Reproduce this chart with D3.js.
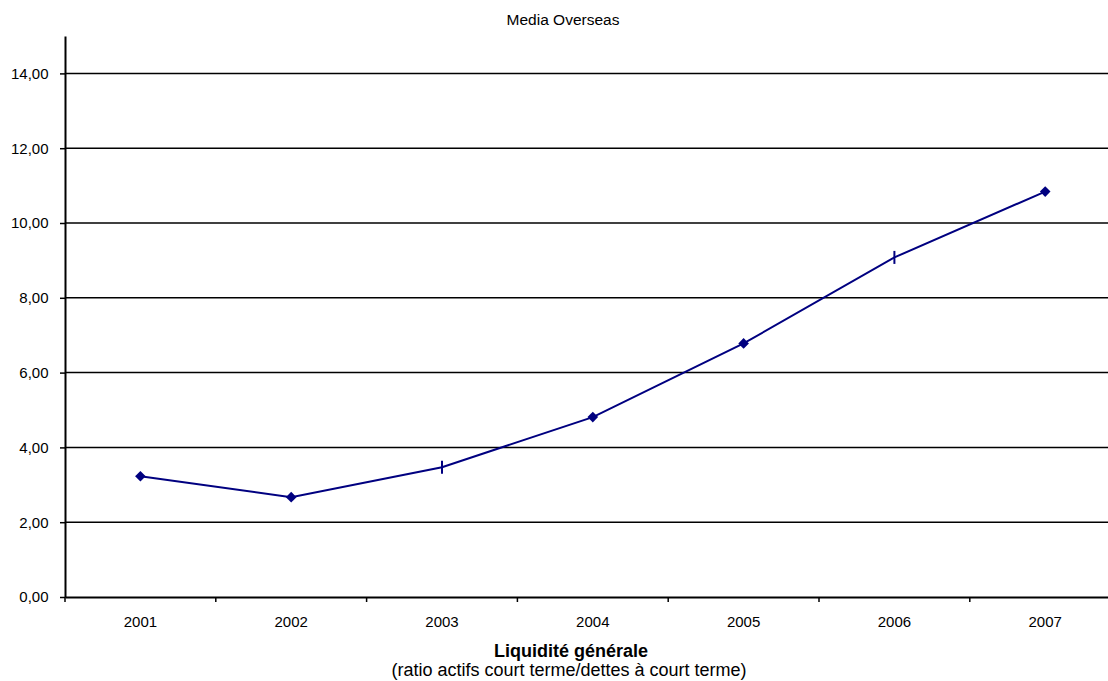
<!DOCTYPE html>
<html><head><meta charset="utf-8">
<script src="https://cdn.jsdelivr.net/npm/d3@7"></script>
<style>body{margin:0;background:#fff}svg{display:block;font-family:"Liberation Sans",Arial,sans-serif}</style>
</head><body><svg id="c" width="1108" height="681"></svg>
<script>
const years = ["2001","2002","2003","2004","2005","2006","2007"];
const values = [3.23, 2.67, 3.47, 4.81, 6.78, 9.08, 10.84];
const markerTypes = ["diamond","diamond","dash","diamond","diamond","dash","diamond"];
const yTicks = [0,2,4,6,8,10,12,14];
const title = "Media Overseas";
const xTitle = "Liquidité générale";
const xSubtitle = "(ratio actifs court terme/dettes à court terme)";

(function(){
const svg = d3.select("#c");
const mLeft = 65, mRight = 1120.6, mTop = 36, mBottom = 597;
const x = d3.scaleBand().domain(years).range([mLeft, mRight]).padding(0);
const y = d3.scaleLinear().domain([0, 15]).range([mBottom, mTop]);
const fmt = d => d3.format(".2f")(d).replace(".", ",");
const FF = "Liberation Sans, Arial, sans-serif";

// gridlines
svg.append("g").selectAll("line").data(yTicks.filter(d => d > 0)).join("line")
  .attr("x1", mLeft).attr("x2", 1108)
  .attr("y1", d => y(d)).attr("y2", d => y(d))
  .attr("stroke", "#000").attr("stroke-width", 1.5);

// y axis
const ya = svg.append("g").attr("transform", `translate(${mLeft},0)`)
  .call(d3.axisLeft(y).tickValues(yTicks).tickFormat(fmt).tickSize(5).tickSizeOuter(0).tickPadding(11.5));
ya.attr("font-size", null).attr("font-family", null);
ya.select(".domain").attr("stroke-width", 2);
ya.selectAll(".tick line").attr("stroke-width", 1.5);
ya.selectAll("text").style("font-size", "15px").attr("fill", "#000").style("font-family", FF);

// x axis
const xa = svg.append("g").attr("transform", `translate(0,${mBottom})`)
  .call(d3.axisBottom(x).tickSize(0).tickSizeOuter(0).tickPadding(19));
xa.attr("font-size", null).attr("font-family", null);
xa.select(".domain").attr("stroke-width", 2);
xa.selectAll("text").style("font-size", "15px").attr("fill", "#000").style("font-family", FF);
svg.append("g").selectAll("line").data(years).join("line")
  .attr("x1", d => x(d)).attr("x2", d => x(d))
  .attr("y1", mBottom).attr("y2", mBottom + 5)
  .attr("stroke", "#000").attr("stroke-width", 1.5);

// line
const cx = d => x(d) + x.bandwidth() / 2;
svg.append("path").datum(years.map((yr, i) => [cx(yr), y(values[i])]))
  .attr("d", d3.line()).attr("fill", "none").attr("stroke", "#000080").attr("stroke-width", 2);

// markers
years.forEach((yr, i) => {
  const px = cx(yr), py = y(values[i]);
  if (markerTypes[i] === "diamond") {
    svg.append("path").attr("d", d3.symbol(d3.symbolDiamond2, 72)())
      .attr("transform", `translate(${px},${py})`).attr("fill", "#000080");
  } else {
    svg.append("line").attr("x1", px).attr("x2", px).attr("y1", py - 6.5).attr("y2", py + 6.5)
      .attr("stroke", "#000080").attr("stroke-width", 2);
  }
});

// titles
svg.append("text").attr("x", 563).attr("y", 25).attr("text-anchor", "middle")
  .style("font-size", "15.5px").text(title);
svg.append("text").attr("x", 571).attr("y", 657).attr("text-anchor", "middle")
  .style("font-size", "18px").attr("font-weight", "bold").text(xTitle);
svg.append("text").attr("x", 569).attr("y", 676).attr("text-anchor", "middle")
  .style("font-size", "18px").text(xSubtitle);
})();
</script></body></html>
